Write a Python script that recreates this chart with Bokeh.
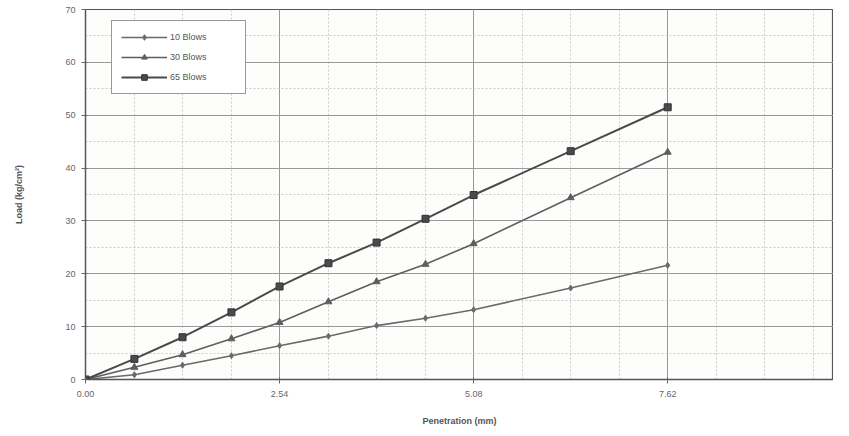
from bokeh.plotting import figure
from bokeh.models import FixedTicker, Legend, LegendItem, Range1d
from bokeh.embed import file_html
from bokeh.resources import INLINE

penetration = [0.0, 0.64, 1.27, 1.91, 2.54, 3.18, 3.81, 4.45, 5.08, 6.35, 7.62]
blows_10 = [0.0, 0.9, 2.7, 4.5, 6.4, 8.2, 10.2, 11.6, 13.2, 17.3, 21.6]
blows_30 = [0.0, 2.3, 4.7, 7.7, 10.8, 14.7, 18.5, 21.8, 25.7, 34.4, 43.0]
blows_65 = [0.0, 3.9, 8.0, 12.7, 17.6, 22.0, 25.9, 30.4, 34.9, 43.2, 51.5]
x_ticks = [0.0, 2.54, 5.08, 7.62]
x_tick_labels = {0.0: "0.00", 2.54: "2.54", 5.08: "5.08", 7.62: "7.62"}
y_ticks = [0, 10, 20, 30, 40, 50, 60, 70]

p = figure(width=833, height=428, output_backend="svg", toolbar_location=None,
           x_range=Range1d(0, 9.79), y_range=Range1d(0, 70),
           min_border_left=85, min_border_right=0, min_border_top=9, min_border_bottom=48)
p.background_fill_color = "#fdfdfb"
p.border_fill_color = "white"
p.outline_line_color = "#555555"
p.outline_line_width = 1.2

font = "Liberation Sans"
p.xaxis.ticker = FixedTicker(ticks=x_ticks, minor_ticks=[i * 0.635 for i in range(16)])
p.xaxis.major_label_overrides = x_tick_labels
p.yaxis.ticker = FixedTicker(ticks=y_ticks, minor_ticks=[i * 5 for i in range(15)])
for ax in (p.xaxis, p.yaxis):
    ax.axis_line_color = "#555555"
    ax.axis_line_width = 1.3
    ax.major_tick_line_color = "#666666"
    ax.major_tick_out = 4
    ax.major_tick_in = 2
    ax.minor_tick_line_color = None
    ax.major_label_text_font = font
    ax.major_label_text_font_size = "9px"
    ax.major_label_text_color = "#666666"
    ax.axis_label_text_font = font
    ax.axis_label_text_font_size = "9px"
    ax.axis_label_text_font_style = "bold"
    ax.axis_label_text_color = "#555555"
p.xaxis.axis_label = "Penetration (mm)"
p.yaxis.axis_label = "Load (kg/cm²)"
p.xaxis.axis_label_standoff = 16
p.yaxis.axis_label_standoff = 38
p.xaxis.major_label_standoff = 7
p.yaxis.major_label_standoff = 6

p.xgrid.grid_line_color = "#999999"
p.xgrid.grid_line_width = 1
p.xgrid.minor_grid_line_color = "#cccccc"
p.xgrid.minor_grid_line_dash = "2 2"
p.ygrid.grid_line_color = "#999999"
p.ygrid.grid_line_width = 1
p.ygrid.minor_grid_line_color = "#cccccc"
p.ygrid.minor_grid_line_dash = "2 2"

c10 = "#6a6a6a"
c30 = "#5e5e5e"
c65 = "#4a4a4a"
l10 = p.line(penetration, blows_10, line_color=c10, line_width=1.6)
m10 = p.scatter(penetration, blows_10, marker="diamond", size=6, fill_color=c10, line_color=c10)
l30 = p.line(penetration, blows_30, line_color=c30, line_width=1.6)
m30 = p.scatter(penetration, blows_30, marker="triangle", size=7, fill_color=c30, line_color=c30)
l65 = p.line(penetration, blows_65, line_color=c65, line_width=2)
m65 = p.scatter(penetration, blows_65, marker="square", size=7, fill_color=c65, line_color="#333333")

legend = Legend(items=[
    LegendItem(label="10 Blows", renderers=[l10, m10]),
    LegendItem(label="30 Blows", renderers=[l30, m30]),
    LegendItem(label="65 Blows", renderers=[l65, m65]),
], location=(26, 285))
legend.label_text_font = font
legend.label_text_font_size = "9px"
legend.label_text_color = "#555555"
legend.border_line_color = "#333333"
legend.border_line_width = 1.2
legend.background_fill_color = "white"
legend.background_fill_alpha = 1
legend.glyph_width = 46
legend.glyph_height = 14
legend.spacing = 6
legend.padding = 9
legend.margin = 0
legend.label_standoff = 3
legend.label_width = 66
p.add_layout(legend, "center")

open("out.html", "w").write(file_html(p, INLINE))
